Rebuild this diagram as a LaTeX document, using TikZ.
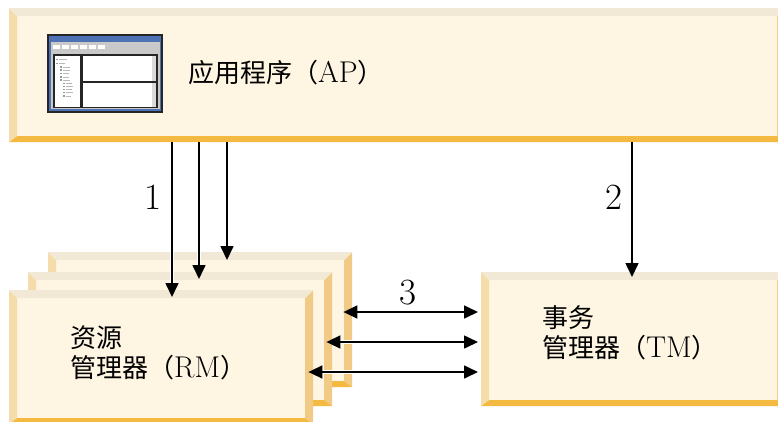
\documentclass[tikz,border=0pt]{standalone}
\usepackage{fontspec}
\newfontfamily\cjk{Noto Sans CJK SC}
\usepackage{xcolor}
\definecolor{boxface}{HTML}{FEF5E3}
\definecolor{bevtop}{HTML}{F2E8D6}
\definecolor{bevleft}{HTML}{F5DCAB}
\definecolor{bevright}{HTML}{F1CB86}
\definecolor{bevbot}{HTML}{F4B940}
\definecolor{icondark}{HTML}{262626}
\definecolor{iconblue}{HTML}{4F72B5}
\definecolor{icongray}{HTML}{C9C9C9}
\definecolor{iconlight}{HTML}{DADADA}
\definecolor{icontree}{HTML}{9A9A9A}
\definecolor{icontreel}{HTML}{B8B8B8}
\usepackage{tikz}
\usetikzlibrary{arrows.meta}
\usetikzlibrary{positioning}

\newcommand{\bevelfill}{%
  \coordinate (bbnw) at (path picture bounding box.north west);
  \coordinate (bbne) at (path picture bounding box.north east);
  \coordinate (bbsw) at (path picture bounding box.south west);
  \coordinate (bbse) at (path picture bounding box.south east);
  \fill[bevleft] (bbnw) -- ([shift={(8pt,-8pt)}]bbnw) -- ([shift={(8pt,6pt)}]bbsw) -- (bbsw) -- cycle;
  \fill[bevright] (bbne) -- ([shift={(-8pt,-8pt)}]bbne) -- ([shift={(-8pt,6pt)}]bbse) -- (bbse) -- cycle;
  \fill[bevtop] (bbnw) -- (bbne) -- ([shift={(-8pt,-8pt)}]bbne) -- ([shift={(8pt,-8pt)}]bbnw) -- cycle;
  \fill[bevbot] (bbsw) -- (bbse) -- ([shift={(-8pt,6pt)}]bbse) -- ([shift={(8pt,6pt)}]bbsw) -- cycle;
}
\newcommand{\latn}[1]{{\rmfamily\fontsize{30}{30}\selectfont #1}}

\tikzset{
  bevelbox/.style={rectangle, fill=boxface, inner sep=0pt, anchor=north west, path picture={\bevelfill}},
  boxtext/.style={inner sep=0pt, anchor=west, align=left, font=\fontsize{26}{30}\selectfont},
  numlabel/.style={inner sep=0pt, font=\fontsize{37}{40}\selectfont},
  arr/.style={line width=1.6pt, -{Triangle[length=14pt,width=13pt]},
    preaction={draw=white, line width=4.5pt, arrows=-, shorten >=11pt}},
  dblarr/.style={line width=1.6pt, {Triangle[length=14pt,width=13pt]}-{Triangle[length=14pt,width=13pt]},
    preaction={draw=white, line width=4.5pt, arrows=-, shorten >=11pt, shorten <=11pt}},
}

\begin{document}
\begin{tikzpicture}[x=1pt,y=-1pt]
\useasboundingbox (0,0) rectangle (778,421);

\node[bevelbox, minimum width=776pt, minimum height=134pt] (ap) at (9,8) {};
\node[bevelbox, minimum width=304pt, minimum height=134pt] (tm) at (481,272) {};
\node[bevelbox, minimum width=304pt, minimum height=135pt] (rmC) at (48,252) {};
\node[bevelbox, minimum width=304pt, minimum height=134pt] (rmB) at (28,272) {};
\node[bevelbox, minimum width=304pt, minimum height=134pt] (rmA) at (9,290) {};

% window icon
\fill[icondark] (47,34) rectangle (163,113);
\fill[iconblue] (49,36) rectangle (161,111);
\fill[icongray] (50.5,41.5) rectangle (159.5,109);
\foreach \k in {0,...,5}
  \fill[white] (52.5+9*\k,44.5) rectangle (60+9*\k,49);
\fill[icondark] (53,54) rectangle (81.5,108);
\fill[white] (54.5,55.5) rectangle (80,106.5);
\fill[icondark] (81.5,54) rectangle (157.5,108);
\fill[white] (83,55.5) rectangle (156,80.5);
\fill[white] (83,82.5) rectangle (156,106.5);
\fill[iconlight] (151.5,55.5) rectangle (156,80.5);
\fill[iconlight] (151.5,82.5) rectangle (156,106.5);
\foreach \yy/\xx/\ll in {59.5/56/8, 63.5/56/6, 67/59.5/7, 70/59.5/7, 73.5/59.5/6, 77/59.5/6,
    80/59.5/7, 83.5/63/6, 86.5/63/7, 89.5/63/6, 92.5/63/7, 96/63/5}{
  \fill[icontree] (\xx,\yy-0.9) rectangle (\xx+2.2,\yy+0.9);
  \fill[icontreel] (\xx+3.2,\yy-0.4) rectangle (\xx+3.2+\ll,\yy+0.4);
}

\node[boxtext] (aptext) at (188,73) {\cjk 应用程序（\latn{AP}）};
\node[boxtext] (rmtext) at (70,353) {\cjk 资源\\\cjk 管理器（\latn{RM}）};
\node[boxtext] (tmtext) at (542,333) {\cjk 事务\\\cjk 管理器（\latn{TM}）};

\draw[arr] ([xshift=163pt]ap.south west) -- ([xshift=163pt,yshift=-7pt]rmA.north west);
\draw[arr] ([xshift=190pt]ap.south west) -- ([xshift=171pt,yshift=-7pt]rmB.north west);
\draw[arr] ([xshift=218pt]ap.south west) -- ([xshift=179pt,yshift=-8pt]rmC.north west);
\draw[arr] ([xshift=623pt]ap.south west) -- ([xshift=151pt,yshift=-5pt]tm.north west);

\draw[dblarr] ([xshift=-9pt,yshift=-60pt]rmC.north east) -- ([xshift=-3pt,yshift=-40pt]tm.north west);
\draw[dblarr] ([xshift=-6pt,yshift=-70pt]rmB.north east) -- ([xshift=-3pt,yshift=-70pt]tm.north west);
\draw[dblarr] ([xshift=-5pt,yshift=-82pt]rmA.north east) -- ([xshift=-3pt,yshift=-100pt]tm.north west);

\node[numlabel] (lab1) at (153,197) {1};
\node[numlabel] (lab2) at (614,197) {2};
\node[numlabel] (lab3) at (408,293) {3};
\end{tikzpicture}
\end{document}
